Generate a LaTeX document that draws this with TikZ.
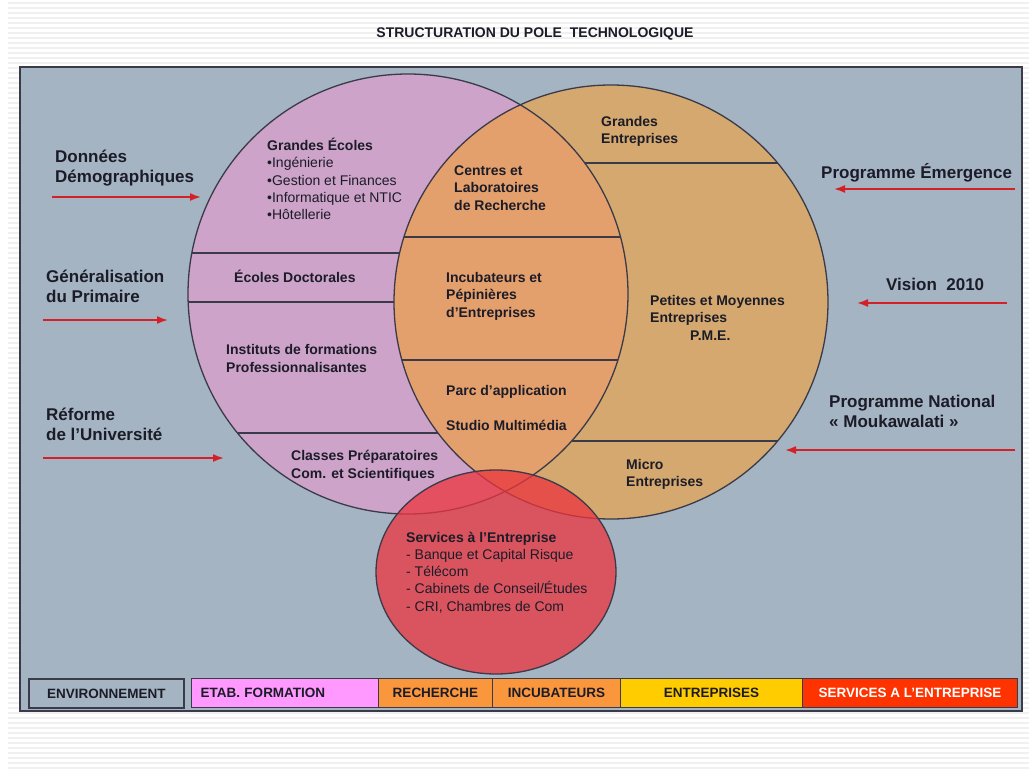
\documentclass[tikz,border=0pt]{standalone}
\usepackage{fontspec}
\setmainfont{Liberation Sans}
\usetikzlibrary{arrows.meta}

\definecolor{panelbg}{HTML}{A4B4C2}
\definecolor{pinkcirc}{HTML}{CDA3C9}
\definecolor{tancirc}{HTML}{D4A86E}
\definecolor{lenscol}{HTML}{E4A06C}
\definecolor{servred}{HTML}{EC353E}
\definecolor{arrowred}{HTML}{D42027}
\definecolor{txt}{HTML}{1C1C28}
\definecolor{lineg}{HTML}{3A3A48}
\definecolor{etabcol}{HTML}{FF99FF}
\definecolor{rechcol}{HTML}{FA963C}
\definecolor{entrcol}{HTML}{FFCC00}
\definecolor{servcol}{HTML}{FF3300}

\newcommand{\lblfont}{\fontsize{17}{20}\selectfont\bfseries}
\newcommand{\circfont}{\fontsize{14}{17.2}\selectfont}
\newcommand{\legfont}{\fontsize{13.5}{15}\selectfont\bfseries}

\begin{document}
\begin{tikzpicture}[x=1pt,y=-1pt]
    \tikzstyle{every node}=[inner sep=0pt, text=txt, align=left]
    % base of a multi-line node = baseline of its last line
    \tikzstyle{outer label}=[anchor=base west, font=\lblfont]
    \tikzstyle{inner label}=[anchor=base west, font=\circfont\bfseries]
    \tikzstyle{item list}=[anchor=base west, font=\circfont]
    \tikzstyle{feed}=[arrowred, line width=1.8pt, -{Latex[length=11pt,width=8pt]}]
    \tikzstyle{sep}=[lineg, line width=1.1pt]
    \tikzstyle{edge}=[lineg, line width=1.3pt]
    \tikzstyle{cell}=[draw=lineg, line width=1pt, anchor=north west,
                      minimum height=29pt, font=\legfont]
    \tikzstyle{stripe}=[gray!12, line width=1.2pt]

      \useasboundingbox (0,0) rectangle (1029,769);

      % slide background
      \fill[white] (0,0) rectangle (1029,769);
      \foreach \y in {3,8,...,768}
        \draw[stripe] (8,\y) -- (1029,\y);

      \node[anchor=base, font=\fontsize{14}{16}\selectfont\bfseries] (title) at (535,37)
        {STRUCTURATION DU POLE\ \ TECHNOLOGIQUE};

      % panel
      \draw[fill=panelbg, draw=lineg, line width=1.5pt] (20,67) rectangle (1022,711);

      % circle centres
      \coordinate (C1) at (408,294);  % formation
      \coordinate (C2) at (611,302);  % entreprises
      \coordinate (C3) at (496,572);  % services

      % draw circles
      \fill[pinkcirc] (C1) circle [radius=220];
      \fill[tancirc] (C2) circle [radius=217];
      \begin{scope}
        \clip (C1) circle [radius=220];
        \fill[lenscol] (C2) circle [radius=217];
      \end{scope}
      \draw[edge] (C1) circle [radius=220];
      \draw[edge] (C2) circle [radius=217];

      % separations, ends taken on the circles
      \draw[sep] (191.9,253) -- (399.6,253);
      \draw[sep] (188.1,302) -- (394,302);
      \draw[sep] (237.5,433) -- (438,433);
      \draw[sep] (404,237) -- (620.5,237);
      \draw[sep] (401.9,360) -- (617.9,360);
      \draw[sep] (584.7,163) -- (777.6,163);
      \draw[sep] (571.7,441) -- (777.6,441);

      % services
      \fill[servred, fill opacity=0.75] (C3) ellipse [x radius=120, y radius=102];
      \draw[edge] (C3) ellipse [x radius=120, y radius=102];

      % formation
      \node[item list] (ecoles) at (267,219.5)
        {\textbf{Grandes Écoles}\\•Ingénierie\\•Gestion et Finances\\•Informatique et NTIC\\•Hôtellerie};
      \node[inner label] (doct) at (234,282) {Écoles Doctorales};
      \node[inner label] (inst) at (226,372) {Instituts de formations\\Professionnalisantes};
      \node[inner label] (prepa) at (291,478) {Classes Préparatoires\\Com. et Scientifiques};

      % recherche / incubateurs
      \node[inner label] (centres) at (454,210) {Centres et\\Laboratoires\\de Recherche};
      \node[inner label] (incub) at (446,317) {Incubateurs et\\Pépinières\\d’Entreprises};
      \node[inner label] (parc) at (446,395) {Parc d’application};
      \node[inner label] (studio) at (446,430) {Studio Multimédia};

      % entreprises
      \node[inner label] (grandes) at (601,143.5) {Grandes\\Entreprises};
      \node[inner label] (pme) at (650,340) {Petites et Moyennes\\Entreprises\\\hspace*{40pt}P.M.E.};
      \node[inner label] (micro) at (626,486.5) {Micro\\Entreprises};

      \node[item list] (serv) at (406,611)
        {\textbf{Services à l’Entreprise}\\- Banque et Capital Risque\\- Télécom\\- Cabinets de Conseil/Études\\- CRI, Chambres de Com};

      % environnement, left side
      \node[outer label] (demo) at (55,182) {Données\\Démographiques};
      \node[outer label] (prim) at (46,302) {Généralisation\\du Primaire};
      \node[outer label] (univ) at (46,440) {Réforme\\de l’Université};

      \coordinate (demoA) at (52,197);
      \coordinate (demoB) at (201,197);
      \coordinate (primA) at (43,320);
      \coordinate (primB) at (168,320);
      \coordinate (univA) at (43,458);
      \coordinate (univB) at (224,458);
      \draw[feed] (demoA) -- (demoB);
      \draw[feed] (primA) -- (primB);
      \draw[feed] (univA) -- (univB);

      % environnement, right side
      \node[outer label] (emerg) at (821,178) {Programme Émergence};
      \node[outer label] (vision) at (886,290) {Vision\ \ 2010};
      \node[outer label] (mouk) at (829,427) {Programme National\\« Moukawalati »};

      \coordinate (emergA) at (1015,189);
      \coordinate (emergB) at (834,189);
      \coordinate (visionA) at (1007,303);
      \coordinate (visionB) at (857,303);
      \coordinate (moukA) at (1015,450);
      \coordinate (moukB) at (785,450);
      \draw[feed] (emergA) -- (emergB);
      \draw[feed] (visionA) -- (visionB);
      \draw[feed] (moukA) -- (moukB);

      % legend
      \node[cell, fill=panelbg, line width=1.8pt, minimum width=155pt] (env) at (28,678) {ENVIRONNEMENT};
      \node[cell, fill=etabcol, minimum width=187pt, text width=169pt, inner xsep=9pt] (etab) at (191,678) {ETAB. FORMATION};
      \node[cell, fill=rechcol, minimum width=114pt] (rech) at (378,678) {RECHERCHE};
      \node[cell, fill=rechcol, minimum width=128pt] (incleg) at (492,678) {INCUBATEURS};
      \node[cell, fill=entrcol, minimum width=182pt] (entr) at (620,678) {ENTREPRISES};
      \node[cell, fill=servcol, minimum width=215pt, text=white] (servleg) at (802,678) {SERVICES A L’ENTREPRISE};

    \end{tikzpicture}
\end{document}
